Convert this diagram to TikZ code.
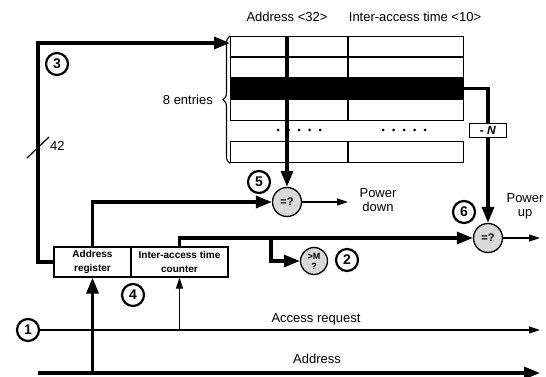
\documentclass[tikz,border=0pt]{standalone}
\usepackage{fontspec}
\setmainfont{Liberation Sans}
\usetikzlibrary{arrows.meta,decorations.pathreplacing,calc}
\begin{document}
\begin{tikzpicture}[x=1pt,y=-1pt,
 thk/.style={line width=3.2pt},
 thn/.style={line width=1.2pt},
 bigarr/.style={-{Triangle[length=16pt,width=12pt]}},
 smallarr/.style={-{Triangle[length=11pt,width=7pt]}},
 cmp/.style={circle,draw,line width=1.3pt,fill=gray!30,minimum size=29pt,inner sep=0pt,align=center,font=\bfseries\fontsize{11}{9}\selectfont},
 num/.style={circle,draw,line width=2.2pt,minimum size=22pt,inner sep=0pt,font=\bfseries\fontsize{14}{14}\selectfont},
 tabrow/.style={draw,line width=1.4pt,minimum width=233pt,minimum height=21pt,inner sep=0pt,anchor=north west},
 regbox/.style={draw,line width=1.3pt,minimum height=30pt,inner sep=0pt,align=center,font=\bfseries\fontsize{10}{14}\selectfont},
 lbl/.style={font=\fontsize{13}{14}\selectfont,inner sep=0pt},
 dot/.style={circle,fill,inner sep=0pt,minimum size=3pt}
]
\useasboundingbox (0,0) rectangle (546,377);

% table
\node[tabrow] (r1) at (230,36) {};
\node[tabrow] (r2) at (230,56.5) {};
\node[tabrow,fill=black] (r3) at (230,77.5) {};
\node[tabrow] (r4) at (230,99) {};
\node[tabrow] (r5) at (230,141) {};
\foreach \r in {r1,r2,r4,r5}{
  \draw[line width=1.4pt] ($(\r.north west)+(118,0)$) -- ($(\r.south west)+(118,0)$);
}
\foreach \x in {278,288.5,299,309.5,320,383,393.5,404,414.5,425}{
  \node[dot] at (\x,130) {};
}
\node[lbl] (h1) at (287,17) {Address <32>};
\node[lbl] (h2) at (415,17) {Inter-access time <10>};

% brace
\draw[line width=1.1pt,decorate,decoration={brace,amplitude=7pt}] (r5.south west) -- (r1.north west);
\node[lbl,anchor=east] (ent) at (213,100) {8 entries};

% registers
\node[regbox,minimum width=77pt] (areg) at (92.5,262) {Address\\register};
\node[regbox,minimum width=97pt] (cnt) at (179.5,262) {Inter-access time\\counter};

% comparators
\node[cmp] (c5) at (287,202) {=?};
\node[cmp] (c6) at (488,238) {=?};
\node[cmp,minimum size=27pt,font=\bfseries\fontsize{9}{10}\selectfont] (c2) at (314,261) {>M\\?};

% numbers
\node[num] (n1) at (28,330) {1};
\node[num] (n2) at (347,260) {2};
\node[num] (n3) at (57,64) {3};
\node[num] (n4) at (133,295) {4};
\node[num] (n5) at (259,182) {5};
\node[num] (n6) at (464,212) {6};

% path 3 : register to table
\coordinate (tin) at (230,43);
\draw[thk,bigarr] (areg.west) -| (38,43) -- (tin);
\draw[thn] (27,158) -- (49,137);
\node[lbl,anchor=west] (w42) at (50,146) {42};

% table to comparator 5
\draw[thk,bigarr] (c5 |- r1.north) -- (c5.north);
\draw[thk,bigarr] (areg.north) |- (c5.west);
\coordinate (pd) at (348,202);
\draw[thn,smallarr] (c5.east) -- (pd);
\node[lbl,align=center] (pdt) at (378,200) {Power\\down};

% -N path
\node[draw,line width=1.3pt,minimum width=37pt,minimum height=14pt,inner sep=0pt,font=\bfseries\fontsize{12}{12}\selectfont] (nb) at (488,130.5) {- \textit{N}};
\draw[thk] (r3.east) -| (nb.north);
\draw[thk,bigarr] (nb.south) -- (c6.north);

% counter to comparators
\draw[thk,bigarr] (cnt.north) |- (c6.west);
\coordinate (br) at (271,238);
\draw[thk,bigarr] (br) |- (c2.west);
\coordinate (pu) at (540,238);
\draw[thn,smallarr] (c6.east) -- (pu);
\node[lbl,align=center] (put) at (525,206) {Power\\up};

% access request
\coordinate (arend) at (540,330);
\draw[thn,smallarr] (n1.east) -- (arend);
\node[lbl] (art) at (316,319) {Access request};
\coordinate (tap) at (cnt.south |- n1);
\draw[thn,smallarr] (tap) -- (cnt.south);

% address bus
\coordinate (bs) at (38,373);
\coordinate (be) at (540,373);
\draw[thk,bigarr] (bs) -- (be);
\node[lbl] (abt) at (317,359) {Address};
\coordinate (btap) at (areg.south |- bs);
\draw[thk,bigarr] (btap) -- (areg.south);
\end{tikzpicture}
\end{document}
